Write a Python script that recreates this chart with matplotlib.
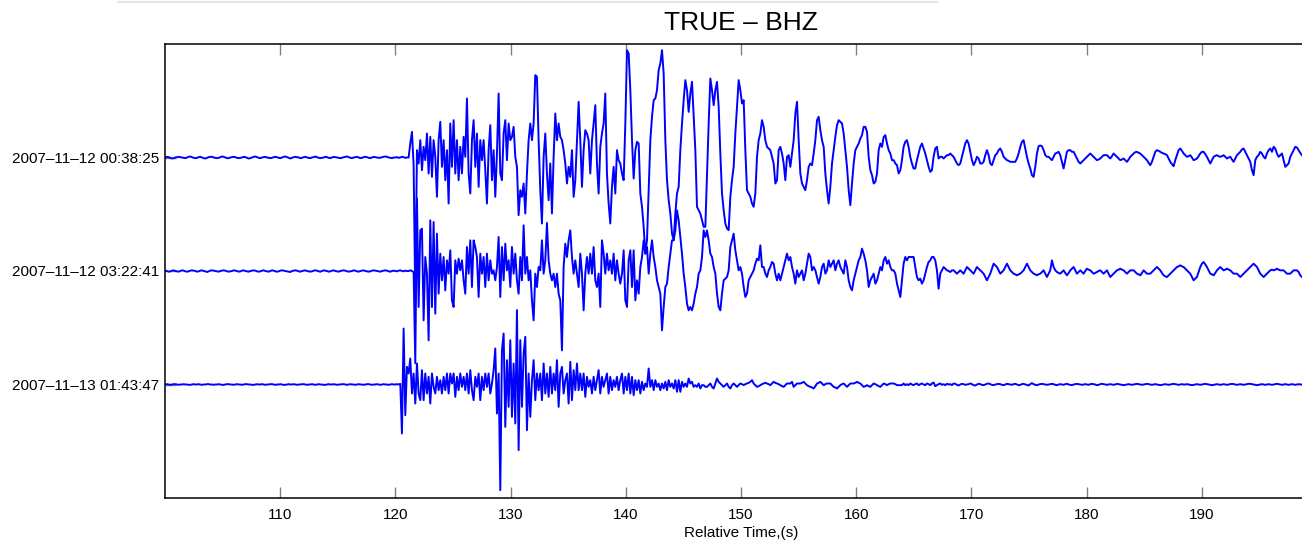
import numpy as np
import matplotlib as mpl
import matplotlib.pyplot as plt
from matplotlib.lines import Line2D

mpl.rcParams['font.family'] = ['Liberation Sans', 'DejaVu Sans']

title = 'TRUE – BHZ'
xlabel = 'Relative Time,(s)'
event_labels = ['2007–11–12 00:38:25', '2007–11–12 03:22:41', '2007–11–13 01:43:47']
xticks = [110, 120, 130, 140, 150, 160, 170, 180, 190]

dt = 0.14468
block_t0 = [100.03, 119.99, 139.67, 163.97]   # start time of each block (s)
gain = 340.5                                   # counts per trace spacing

# ---- trace 1 (2007-11-12 00:38:25), counts
tr1_pre = [0, 2, 1, -1, -3, -2, 0, 1, 2, 1,
           0, -1, -2, 0, 2, 3, 1, -1, -2, -1,
           1, 2, 0, -2, -3, -1, 1, 2, 2, 0,
           -1, -2, -1, 1, 3, 2, 0, -2, -2, 0,
           1, 2, 1, -1, -2, -1, 0, 2, 1, -1,
           -3, -2, 0, 2, 3, 1, -1, -2, 0, 1,
           2, 0, -1, -2, -1, 1, 2, 1, -1, -2,
           0, 2, 3, 1, -1, -3, -1, 1, 2, 1,
           0, -2, -1, 1, 2, 0, -1, -2, 0, 1,
           3, 1, -1, -2, -1, 0, 2, 1, -1, -2,
           0, 2, 1, 0, -1, -2, -1, 1, 2, 3,
           1, -1, -2, 0, 1, 2, 0, -2, -1, 1,
           2, 1, -1, -2, 0, 2, 1, 0, -1, -1,
           1, 2, 3, 2, 0, -1, -2, 0]
tr1_b2 = [0, 1, -1, 0, 2, 1, -1, 0,
          0, 42, 77, -23, -428, 22, -18, 52, -38, 32,
          -8, 72, -48, 62, -58, 52, 2, -118, 52, 107,
          -28, 52, -68, 22, -138, 102, -28, 112, -48, 52,
          -68, 32, -48, 62, 2, 177, -48, -108, 52, 112,
          -28, 72, -88, 52, -8, 52, -38, -138, 22, 97,
          -68, 22, -118, 12, 192, -48, -68, 72, 112, -8,
          102, 52, 62, 92, 2, -28, -173, -98, -118, -78,
          -168, -48, 52, 102, 52, 102, 247, 242, 52, -98,
          -198, 2, 72, -48, -128, -18, -168, 2, 132, 52,
          102, 62, 52, 22, -18, -78, -28, -58, 22, -118,
          -68, 52, 167, 52, -88, 22, 82, 72, 52, -48,
          52, 102, 157, -18, -108, 32, 72, 102, 192, -48,
          -138, -198, -88, -28, -108, 22, -8, -18]
tr1_b3 = [-48, -68, 102, 322, 312, 202, 52, -63, 22, 47,
          42, -108, -148, -208, -288, -248, -98, 52, 122, 172,
          177, 202, 262, 282, 322, 252, 52, -68, -128, -168,
          -228, -248, -168, -108, -88, 22, 102, 172, 232, 202,
          137, 192, 227, 122, 22, -148, -158, -168, -188, -208,
          -208, -48, 102, 237, 202, 157, 202, 227, 152, 12,
          -108, -158, -198, -213, -218, -118, -68, -28, 72, 152,
          232, 202, 162, 172, 22, -98, -108, -118, -138, -148,
          -108, 2, 52, 72, 112, 92, 52, 32, 27, 22,
          2, -18, -78, -68, 22, 32, 12, -18, -68, 2,
          7, -28, 12, 52, 132, 167, 52, -48, -78, -88,
          -98, -68, -28, -18, -23, 12, 52, 112, 122, 82,
          52, 32, -48, -98, -138, -88, -18, 22, 62, 97,
          112, 107, 102, 72, 22, -28, -98, -143, -78, -18,
          22, 32, 42, 57, 67, 92, 92, 77, 2, -38,
          -53, -78, -73, -48, 22, 42, 32, 62, 67, 42,
          22, 12, -8, -8, -18, -23, -48, -38]
tr1_b4 = [-8, 32, 47, 52, 32, 2, -18, -33, -33, -8,
          12, 32, 42, 27, 12, -8, -28, -43, -38, 2,
          27, 32, -3, 2, 2, -3, 2, 7, 7, 12,
          7, 2, -8, -18, -23, -18, 2, 22, 42, 52,
          42, 17, -8, -23, -13, 2, -3, -18, -18, -13,
          7, 22, 7, -18, -23, -8, 7, 12, 22, 27,
          17, 2, -3, -8, -10, -13, -13, -13, -13, -3,
          12, 32, 47, 52, 27, 2, -18, -33, -53, -58,
          -28, 12, 34, 36, 34, 22, 7, 2, 2, -3,
          -8, 2, 12, 14, 17, 7, -13, -33, -8, 17,
          22, 22, 17, 17, 7, -3, -13, -18, -13, -8,
          -3, 2, 7, 12, 7, 2, -3, -8, -6, -3,
          2, 7, 7, 7, 2, -3, 4, 12, 7, 2,
          -3, -8, -6, -3, -8, -13, -6, 2, 7, 12,
          16, 17, 14, 12, 7, 2, -3, -8, -16, -23,
          -13, 2, 17, 22, 20, 17, 14, 12, 10, 7,
          -3, -13, -20, -26, -8, 7, 22, 27, 20, 12,
          7, 2, 4, 7, 0, -8, -6, -3, 4, 12,
          17, 17, 10, 2, -8, -18, -8, 2, 5, 7,
          4, 2, 4, 7, 2, -3, 0, 2, -6, -13,
          -3, 7, 12, 17, 24, 27, 17, 7, -3, -13,
          -38, -53, -8, 2, 7, 17, 12, 2, -3, 12,
          22, 27, 17, 32, 27, 12, 2, 7, 12, -8,
          -28, -23, -18, 2, 12, 22, 32, 30, 22, 14,
          7]

# ---- trace 2 (2007-11-12 03:22:41), counts
tr2_pre = [1, 0, -2, -1, 1, 2, 0, -1, -2, 0,
           2, 1, -1, -2, -1, 1, 2, 1, 0, -2,
           -1, 1, 2, 0, -1, -3, -1, 1, 2, 1,
           0, -1, -2, 0, 1, 2, 1, -1, -2, -1,
           0, 2, 1, 0, -2, -1, 1, 2, 0, -1,
           -2, 0, 1, 2, 1, -1, -2, -1, 1, 2,
           0, -1, -2, 0, 2, 1, -1, -2, -1, 1,
           2, 1, 0, -1, -2, -3, 0, 1, 2, 1,
           -1, -2, 0, 1, 2, 0, -1, -2, -1, 1,
           2, 1, -1, -2, 0, 2, 1, 0, -2, -1,
           1, 2, 0, -1, -2, 0, 1, 2, 1, -1,
           -2, -1, 0, 2, 1, -1, -2, 0, 1, 2,
           0, -1, -2, -1, 1, 2, 1, 0, -1, -2,
           0, 1, 2, 1, -1, -2, 0, 1]
tr2_b2 = [0, -1, 1, 2, 0, -1, 1, 0,
          0, 2, 0, -3, -277, 218, -108, 122, 127, -148,
          42, -8, -208, 152, -108, 147, -128, 112, -68, 52,
          -28, 42, -58, 32, -8, 62, -88, -108, 32, -8,
          37, 2, 32, -28, -68, 72, -8, 92, -48, 92,
          72, 42, -78, 52, -8, 42, -48, 52, -28, 32,
          -8, 2, -28, 12, 102, -78, 72, -28, 82, 2,
          32, -48, 72, -8, 52, -28, -68, 42, -28, 137,
          -8, 42, -28, 2, -88, -148, -8, -48, 12, 2,
          92, -8, 32, 144, 32, -8, -28, -8, -48, -8,
          -68, -88, -238, 12, 82, 42, 92, 122, 42, -8,
          32, -8, -48, 52, -8, -118, -8, 42, -8, 52,
          -8, 72, -28, -48, -8, -108, 92, 52, -8, 52,
          2, 32, -8, 52, -28, 32, -8, -38]
tr2_b3 = [-8, 62, -88, -108, 32, 62, -48, 62, -88, -28,
          -68, 12, 42, 92, 52, 72, -8, 52, 92, 42,
          12, -28, -48, -68, -178, -108, -48, -38, 12, 52,
          92, 92, 122, 182, 152, 102, 52, -8, -48, -98,
          -118, -108, -118, -98, -68, -48, -8, 2, 42, 122,
          102, 122, 92, 52, 42, 12, -8, -68, -108, -118,
          -68, -28, -23, -18, 2, 72, 92, 112, 62, 32,
          2, 12, -8, -48, -78, -68, -28, -18, -8, 2,
          22, 37, 32, 77, 12, 12, -8, -18, 2, 12,
          27, 22, -8, -28, -8, -28, -8, 12, 32, 52,
          32, 42, 12, -8, -38, 2, -18, -8, 2, -28,
          -8, 22, 52, 42, 2, 12, 2, -18, -38, -18,
          12, 22, -8, 2, 32, 12, 22, 32, 2, 22,
          32, 12, 2, -8, 32, 12, -28, -48, -58, -28,
          -8, 12, 32, 42, 67, 52, 32, 2, -48, -28,
          -18, -8, -38, -28, -8, 12, 2, 32, 42, 22,
          32, 12, 2, 2, -8, -38, -58, -78]
tr2_b4 = [-28, 22, 42, 32, 42, 42, 42, 42, 12, -18,
          -28, -23, -38, -28, -8, 12, 27, 32, 42, 42,
          32, 2, -53, -8, 2, 12, 7, 2, 0, -3,
          2, 2, -3, -8, -3, 2, -3, -8, 2, 12,
          7, 2, -3, -8, 2, 12, 7, 2, -3, -8,
          -18, -28, -18, -8, 7, 22, 17, 12, 2, -8,
          -3, 2, 12, 22, 12, 2, -3, -8, -10, -13,
          -10, -8, -3, 2, 12, 22, 12, 2, -3, -8,
          -10, -13, -10, -8, -3, 2, -8, -18, -8, 2,
          32, 12, 2, -3, -6, -8, -3, 2, -6, -13,
          -6, 2, 7, 12, 2, -8, -3, 2, -3, -8,
          0, 7, 4, 2, -3, -8, -6, -3, 0, 2,
          -3, -8, -3, 2, -8, -18, -13, -8, -3, 2,
          4, 7, 4, 2, -3, -8, -3, 2, 2, 2,
          -3, -8, -10, -13, -6, 2, -3, -8, -8, -8,
          -3, 2, 7, 12, 7, 2, -6, -13, -16, -18,
          -13, -8, -3, 2, 7, 12, 14, 17, 14, 12,
          7, 2, -3, -8, -18, -28, -23, -18, -3, 12,
          22, 27, 20, 12, 2, -8, -10, -13, -6, 2,
          7, 12, 7, 2, 4, 7, 4, 2, -3, -8,
          -8, -8, -13, -18, -13, -8, -3, 2, 7, 12,
          17, 22, 17, 12, 2, -8, -13, -18, -13, -8,
          -3, 2, 4, 2, 4, 7, 4, 2, 2, 2,
          -3, -8, -8, -8, -3, 2, 2, 2, -3, -13,
          -18]

# ---- trace 3 (2007-11-13 01:43:47), counts
tr3_pre = [0, 1, 0, -1, 0, 1, 1, 0, -1, 0,
           0, 1, 0, 0, -1, -1, 0, 1, 0, 0,
           1, 0, -1, 0, 0, 1, 1, 0, 0, -1,
           0, 0, 1, 0, -1, -1, 0, 1, 1, 0,
           0, -1, 0, 1, 0, 0, -1, 0, 1, 1,
           0, 0, -1, -1, 0, 1, 0, 0, 1, 0,
           -1, 0, 0, 1, 1, 0, -1, 0, 0, 1,
           0, -1, -1, 0, 1, 0, 0, 1, 0, -1,
           0, 0, 1, 1, 0, -1, 0, 0, 1, 0,
           -1, 0, 1, 0, 0, -1, -1, 0, 1, 0,
           0, 1, 0, -1, 0, 0, 1, 1, 0, -1,
           0, 1, 0, 0, -1, 0, 1, 0, 0, -1,
           0, 1, 1, 0, -1, 0, 0, 1, 0, -1,
           0, 1, 0, 0, -1, 0, 1, 0]
tr3_b2 = [0, 1, 0, 2, -147, 168, -92, 53,
          33, 78, -27, 33, -57, 63, -27, -47, 43, -47,
          33, -27, 23, -57, 33, -7, -27, 23, -17, 13,
          -27, 23, -17, 33, -27, 33, 3, 33, -37, 23,
          -17, 33, -7, 23, -17, 33, -27, 43, -17, -47,
          23, -7, 33, -47, 23, -17, 33, -7, 33, -27,
          3, 43, 108, -87, 33, -317, 103, 153, -127, 73,
          -67, 133, -97, 63, -117, 223, -197, 133, -67, 93,
          143, -137, 33, -97, 13, 73, -47, 33, -17, 33,
          -47, 63, -27, 33, -37, 53, -27, 33, -17, 73,
          -67, 33, 53, -27, 13, 33, -57, 68, -47, 43,
          -17, 63, -17, 33, -17, 33, -37, 23, -7, 13,
          -27, 23, -17, 13, 43, -27, 23, -7, 13, 33,
          -27, 23, -17, 13, -7, 23, -17, 13]
tr3_b3 = [33, -27, 23, -17, 33, -27, 23, -32, 13, -17,
          13, -27, 8, -17, 3, -7, 48, -7, 13, -17,
          13, -7, 3, -17, 3, -12, 8, -17, 13, -7,
          3, -12, 13, -22, 13, -22, 8, -7, 3, -7,
          18, 3, 8, -7, -2, -7, 3, -12, -2, -2,
          -7, -7, -2, 3, -7, -12, 3, 18, 8, 3,
          -2, -7, -2, 3, -7, -12, -2, 3, -2, -7,
          -2, 3, 1, -2, 1, 3, 5, 8, 13, 3,
          -2, -7, -5, -2, 1, 3, 5, 3, 1, -2,
          3, 8, 5, 3, 1, -2, -5, -7, -2, 3,
          3, 3, 8, -7, -2, 3, 3, 3, 5, 8,
          3, -2, -5, -7, -9, -12, -5, 3, 5, 8,
          3, -2, 1, 3, 3, 3, -2, -7, -9, -12,
          -7, -2, 1, 3, -2, -7, -2, 3, 3, 3,
          5, 8, 5, 3, -2, -7, -5, -2, -5, -7,
          -2, 3, 1, -2, -5, -7, -2, 3, 1, -2,
          1, 3, 3, 3, 1, -2, -2, -2]
tr3_b4 = [-2, 3, -2, 1, -2, 3, 0, -2, 1, 3,
          -2, 1, 3, 0, -2, 3, 1, -2, 3, 6,
          -5, -2, 1, 3, -1, 1, -2, 2, 0, 1,
          -2, 3, 2, -1, -3, 0, 2, 1, -1, 0,
          1, 3, 1, -2, -3, 0, 2, 1, -1, -2,
          0, 2, 3, 1, -1, -2, 0, 1, 2, 1,
          -1, -2, 0, 2, 1, 0, -1, 1, 2, 0,
          -2, -1, 1, 2, 0, -1, -3, 1, 4, 1,
          -1, -2, 0, 1, 2, 1, 0, -1, 0, 1,
          2, 1, -1, -2, 0, 1, 0, -1, 1, 2,
          0, -1, -2, 0, 1, 2, 1, 0, -1, 0,
          1, 0, -1, 1, 2, 1, 0, -2, -1, 1,
          2, 1, 0, -1, 0, 1, 0, -1, 0, 2,
          1, 0, -1, -2, -1, 0, 1, 0, -1, 0,
          1, 2, 1, 0, -1, 0, 1, 2, 1, 0,
          -1, 0, 1, 0, -1, -2, -1, 0, 1, 0,
          -1, 0, 1, 2, 1, 0, -1, 0, 1, 0,
          0, 1, 0, -1, -2, -1, 0, 1, 0, -1,
          0, 1, 2, 1, 0, -1, -2, -1, 0, 1,
          0, -1, 0, 1, 0, -1, 0, 1, 2, 1,
          0, -1, 0, 1, 0, -1, 0, 1, 2, 2,
          1, 0, -1, -2, -1, 0, 1, 0, -1, 0,
          1, 0, -1, 0, 1, 2, 1, 0, -1, 0,
          1, 0, -1, 0, 1, 0, -1, 0, 1, 0,
          0]

traces = [[tr1_pre, tr1_b2, tr1_b3, tr1_b4],
          [tr2_pre, tr2_b2, tr2_b3, tr2_b4],
          [tr3_pre, tr3_b2, tr3_b3, tr3_b4]]


def assemble(blocks):
    """glue the digitised blocks of one trace into time / amplitude arrays"""
    t, a = [], []
    for t0, blk in zip(block_t0, blocks):
        t.append(t0 + dt * np.arange(len(blk)))
        a.append(np.array(blk, dtype=float))
    return np.concatenate(t), np.concatenate(a) / gain


fig = plt.figure(figsize=(13.02, 5.42), dpi=100)
ax = fig.add_axes([165 / 1302, 44 / 542, 1152 / 1302, 454 / 542])

n = len(traces)
for k, blocks in enumerate(traces):
    t, a = assemble(blocks)
    ax.plot(t, (n - k) + a, color=(0, 0, 1), lw=1.4)

ax.set_xlim(100, 200)
ax.set_ylim(0, n + 1)
ax.set_xticks(xticks)
ax.set_yticks([n - k for k in range(n)])
ax.set_yticklabels(event_labels)

ax.tick_params(axis='x', direction='in', top=True, length=8, width=1,
               color='0.5', labelsize=11, pad=7)
ax.tick_params(axis='y', direction='in', right=True, length=8, width=1,
               color='0.5', labelsize=11, pad=4)
for s in ax.spines.values():
    s.set_linewidth(1.1)

ax.set_title(title, fontsize=19, pad=10)
ax.set_xlabel(xlabel, fontsize=11, labelpad=3)

# faint edge of the window above the plot
fig.add_artist(Line2D([118 / 1302, 937 / 1302], [1 - 1.5 / 542] * 2,
                      color='#e4e4e4', lw=1.5))

fig.savefig('out.png', dpi=100)
